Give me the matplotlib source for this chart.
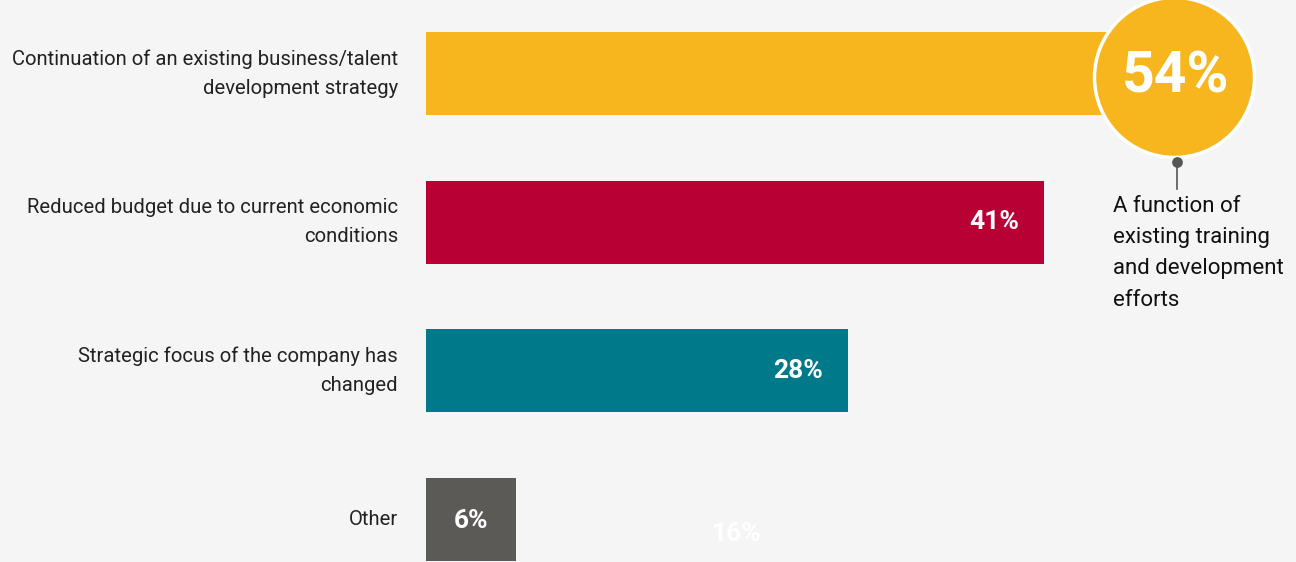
import matplotlib.pyplot as plt

# data
categories = [
    "Continuation of an existing business/talent\ndevelopment strategy",
    "Reduced budget due to current economic\nconditions",
    "Strategic focus of the company has\nchanged",
    "Other",
]
values = [54, 41, 28, 6]
colors = ["#F7B61D", "#B80034", "#00798A", "#5B5A57"]
note = "A function of\nexisting training\nand development\nefforts"

plt.rcParams["font.family"] = ["Roboto", "DejaVu Sans"]
bg = "#F5F5F5"

fig = plt.figure(figsize=(12.96, 5.62), dpi=100, facecolor=bg)
ax = fig.add_axes([0, 0, 1, 1], facecolor=bg)
px = 15.07  # pixels per percent
ax.set_xlim(-426 / px, (1296 - 426) / px)
step = 148.7
ax.set_ylim((562 - 73.5) / step, -73.5 / step)
ax.axis("off")

ys = list(range(len(values)))
ax.barh(ys, values, height=83 / step, color=colors, zorder=1)

for y, label in zip(ys, categories):
    ax.text(-28 / px, y, label, ha="right", va="center", fontsize=14.6,
            color="#222222", linespacing=1.7)

# value labels inside the bars
for y, v in zip(ys[1:3], values[1:3]):
    ax.text(v - 25 / px, y, f"{v}%", ha="right", va="center", fontsize=19,
            fontweight="bold", color="white")
ax.text(values[3] / 2, ys[3] + 0.01, f"{values[3]}%", ha="center", va="center",
        fontsize=19, fontweight="bold", color="white")
ax.text(20.6, 3.1, "16%", ha="center", va="center", fontsize=19,
        fontweight="bold", color="white", zorder=0)

# big circle callout for top value
cx = (1174 - 426) / px
cy = (77 - 73.5) / step
ax.scatter([cx], [cy], s=(160 * 0.72) ** 2, color=colors[0],
           edgecolor="white", linewidth=2.5, zorder=3, clip_on=False)
ax.text(cx + 0.1, cy, f"{values[0]}%", ha="center", va="center", fontsize=41,
        fontweight="bold", color="white", zorder=4)
dot_y = (162 - 73.5) / step
ax.plot([cx + 0.2, cx + 0.2], [dot_y, (189 - 73.5) / step], color="#555555",
        lw=1.2, zorder=4)
ax.scatter([cx + 0.2], [dot_y], s=45, color="#555555", zorder=5)
ax.text((1113 - 426) / px, (196 - 73.5) / step, note, ha="left", va="top",
        fontsize=16, color="#111111", linespacing=1.64)

fig.savefig("out.png", dpi=100, facecolor=bg)
